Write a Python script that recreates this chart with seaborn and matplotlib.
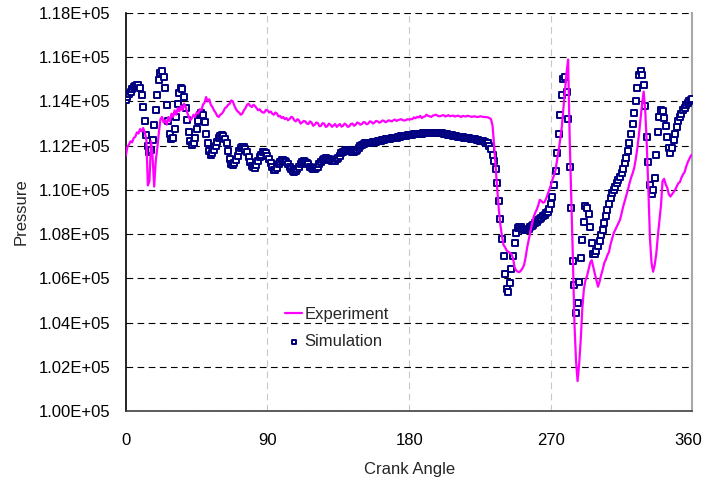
import numpy as np
import pandas as pd
import matplotlib
matplotlib.use("Agg")
import matplotlib.pyplot as plt
import matplotlib.transforms as mtransforms
import seaborn as sns
from matplotlib.ticker import FuncFormatter, MultipleLocator

# crank angle, one sample per degree
crank_angle = np.arange(0, 361, 1)

# simulated pressure (kPa)
sim_kpa = [
    # 0..59
    114.06, 114.2, 114.33, 114.45, 114.56, 114.65, 114.71, 114.74, 114.74, 114.6,
    114.3, 113.75, 113.1, 112.5, 112.0, 111.72, 111.8, 112.25, 112.95, 113.6,
    114.3, 114.95, 115.3, 115.38, 115.1, 114.6, 113.85, 113.1, 112.55, 112.28,
    112.35, 112.75, 113.3, 113.9, 114.4, 114.63, 114.55, 114.2, 113.7, 113.15,
    112.6, 112.2, 112.02, 112.1, 112.35, 112.75, 113.1, 113.4, 113.5, 113.38,
    113.05, 112.55, 112.1, 111.75, 111.6, 111.65, 111.8, 111.98, 112.18, 112.35,
    # 60
    112.45,
    # 61..230
    112.48, 112.45, 112.3, 112.1, 111.75, 111.4, 111.18, 111.13, 111.2, 111.35,
    111.55, 111.75, 111.9, 111.95, 111.93, 111.85, 111.7, 111.5, 111.28, 111.1,
    111.02, 111.0, 111.12, 111.3, 111.48, 111.6, 111.7, 111.7, 111.65, 111.55,
    111.38, 111.2, 111.02, 110.92, 110.92, 111.0, 111.15, 111.28, 111.35, 111.35,
    111.32, 111.25, 111.15, 111.05, 110.93, 110.85, 110.82, 110.85, 110.93, 111.05,
    111.18, 111.27, 111.3, 111.28, 111.22, 111.15, 111.05, 110.98, 110.95, 110.95,
    110.98, 111.05, 111.15, 111.25, 111.34, 111.4, 111.43, 111.42, 111.38, 111.35,
    111.32, 111.3, 111.32, 111.38, 111.46, 111.55, 111.65, 111.72, 111.78, 111.8,
    111.8, 111.78, 111.74, 111.72, 111.72, 111.75, 111.82, 111.9, 111.97, 112.02,
    112.07, 112.1, 112.11, 112.12, 112.12, 112.13, 112.15, 112.17, 112.18, 112.2,
    112.21, 112.22, 112.24, 112.26, 112.28, 112.29, 112.31, 112.32, 112.33, 112.34,
    112.36, 112.37, 112.39, 112.4, 112.42, 112.43, 112.45, 112.46, 112.47, 112.48,
    112.49, 112.5, 112.51, 112.52, 112.53, 112.54, 112.55, 112.55, 112.56, 112.56,
    112.57, 112.57, 112.58, 112.58, 112.58, 112.58, 112.58, 112.57, 112.57, 112.56,
    112.56, 112.55, 112.54, 112.52, 112.5, 112.49, 112.47, 112.46, 112.44, 112.43,
    112.41, 112.4, 112.39, 112.38, 112.36, 112.35, 112.34, 112.33, 112.31, 112.3,
    112.29, 112.28, 112.27, 112.25, 112.23, 112.21, 112.19, 112.17, 112.14, 112.1,
    # 231..360
    112.0, 111.85, 111.6, 111.3, 110.95, 110.3, 109.5, 108.7, 107.8, 107.0,
    106.2, 105.5, 105.4, 105.8, 106.4, 107.0, 107.6, 108.05, 108.28, 108.33,
    108.3, 108.25, 108.2, 108.18, 108.2, 108.25, 108.3, 108.36, 108.42, 108.48,
    108.55, 108.62, 108.68, 108.74, 108.8, 108.87, 108.94, 109.02, 109.15, 109.38,
    109.7, 110.2, 110.85, 111.65, 112.55, 113.4, 114.3, 115.0, 115.1, 114.45,
    113.2, 111.05, 109.2, 106.8, 105.7, 104.45, 104.9, 105.85, 106.9, 107.75,
    108.55, 109.25, 109.2, 108.9, 108.3, 107.6, 107.1, 107.08, 107.25, 107.45,
    107.7, 107.95, 108.2, 108.5, 108.8, 109.1, 109.35, 109.65, 109.85, 110.0,
    110.15, 110.3, 110.45, 110.6, 110.75, 110.95, 111.2, 111.45, 111.75, 112.1,
    112.55, 113.0, 113.5, 114.0, 114.6, 115.2, 115.4, 115.2, 114.75, 113.8,
    112.4, 111.25, 110.2, 109.8, 110.0, 110.55, 111.6, 112.6, 113.3, 113.6,
    113.55, 113.25, 112.9, 112.4, 111.9, 111.65, 111.9, 112.25, 112.55, 112.85,
    113.1, 113.3, 113.45, 113.6, 113.72, 113.83, 113.92, 114.0, 114.07, 114.1,
]

# measured pressure (kPa)
exp_kpa = [
    # 0..59
    111.55, 111.95, 112.05, 112.2, 112.15, 112.35, 112.4, 112.6, 112.55, 112.75,
    112.65, 112.8, 112.6, 112.3, 110.2, 110.4, 112.2, 111.5, 110.15, 111.3,
    111.9, 112.6, 113.2, 113.3, 113.05, 113.15, 112.95, 113.3, 113.1, 113.45,
    113.3, 113.6, 113.4, 113.7, 113.55, 113.8, 113.6, 113.9, 113.75, 113.5,
    113.3, 113.15, 113.25, 113.4, 113.3, 113.5, 113.45, 113.65, 113.6, 113.85,
    113.95, 114.2, 114.0, 114.1, 113.85, 113.75, 113.6, 113.5, 113.35, 113.3,
    # 60
    113.4,
    # 61..230
    113.45, 113.55, 113.7, 113.75, 113.85, 113.9, 114.05, 114.0, 113.8, 113.65,
    113.55, 113.5, 113.4, 113.45, 113.6, 113.7, 113.85, 113.9, 113.8, 113.75,
    113.85, 113.8, 113.7, 113.6, 113.65, 113.55, 113.5, 113.5, 113.62, 113.6,
    113.5, 113.55, 113.45, 113.4, 113.5, 113.45, 113.32, 113.35, 113.25, 113.3,
    113.2, 113.25, 113.15, 113.2, 113.3, 113.28, 113.15, 113.1, 113.2, 113.15,
    113.0, 113.05, 113.12, 113.1, 113.0, 112.98, 113.1, 113.05, 112.9, 112.95,
    113.05, 113.02, 112.88, 112.9, 113.02, 113.0, 112.85, 112.88, 113.0, 112.95,
    112.85, 112.92, 112.98, 112.85, 112.92, 112.98, 112.86, 112.9, 113.0, 112.95,
    112.85, 112.88, 112.98, 113.0, 112.9, 112.95, 113.05, 113.02, 112.95, 112.98,
    113.07, 113.05, 112.97, 113.0, 113.1, 113.08, 113.0, 113.05, 113.12, 113.1,
    113.04, 113.07, 113.14, 113.12, 113.06, 113.1, 113.15, 113.12, 113.1, 113.15,
    113.18, 113.12, 113.16, 113.18, 113.2, 113.15, 113.14, 113.16, 113.2, 113.18,
    113.2, 113.2, 113.28, 113.24, 113.3, 113.28, 113.35, 113.25, 113.3, 113.32,
    113.4, 113.35, 113.33, 113.3, 113.36, 113.38, 113.4, 113.36, 113.33, 113.34,
    113.37, 113.38, 113.32, 113.35, 113.38, 113.33, 113.35, 113.36, 113.32, 113.34,
    113.36, 113.33, 113.3, 113.35, 113.33, 113.32, 113.35, 113.34, 113.32, 113.3,
    113.33, 113.32, 113.3, 113.3, 113.33, 113.32, 113.3, 113.3, 113.29, 113.28,
    # 231..360
    113.25, 113.2, 112.9, 112.0, 111.0, 110.0, 109.1, 108.4, 107.9, 107.5,
    107.4, 107.25, 107.2, 107.15, 107.1, 106.9, 106.5, 106.35, 106.3, 106.28,
    106.35, 106.45, 106.6, 106.95, 107.4, 107.75, 108.1, 108.45, 108.75, 108.95,
    109.1, 109.3, 109.55, 109.5, 109.42, 109.45, 109.6, 109.8, 110.0, 110.2,
    110.45, 110.65, 110.9, 111.35, 111.8, 112.3, 112.85, 113.7, 114.5, 115.3,
    115.9, 112.3, 109.6, 107.0, 104.0, 102.3, 101.35, 102.1, 103.2, 104.6,
    105.5, 105.9, 106.1, 106.4, 106.7, 106.82, 106.5, 106.2, 105.9, 105.62,
    105.85, 106.15, 106.4, 106.7, 106.85, 107.05, 107.2, 107.55, 107.8, 108.05,
    108.2, 108.35, 108.5, 108.65, 108.95, 109.25, 109.5, 109.75, 110.0, 110.3,
    110.55, 110.75, 111.0, 111.4, 111.9, 112.5, 113.2, 113.9, 114.45, 113.6,
    112.0, 110.0, 107.8, 106.7, 106.3, 106.6, 107.1, 107.9, 108.6, 109.3,
    110.4, 110.5, 110.25, 110.1, 109.8, 109.7, 109.8, 109.9, 110.0, 110.15,
    110.3, 110.35, 110.55, 110.7, 110.8, 111.05, 111.25, 111.4, 111.55, 111.6,
]

x_ticks = [0, 90, 180, 270, 360]

df = pd.DataFrame({
    'angle': crank_angle,
    'simulation': np.array(sim_kpa) * 1000,
    'experiment': np.array(exp_kpa) * 1000,
})

sns.set_style("white")
plt.rcParams['font.family'] = ['Liberation Sans', 'DejaVu Sans']

fig = plt.figure(figsize=(7.03, 4.84), dpi=100)
ax = fig.add_axes([0.179, 0.151, 0.806, 0.822])

# experiment line, drawn on top of the simulation markers
sns.lineplot(data=df, x='angle', y='experiment', color='#ff00ff', linewidth=1.6,
             label='Experiment', ax=ax, zorder=4)
sns.scatterplot(data=df, x='angle', y='simulation', marker='s', s=18,
                facecolor='white', edgecolor='#000080', linewidth=1.4,
                label='Simulation', ax=ax, zorder=3)

ax.set_xlim(0, 360)
ax.set_ylim(100000, 118000)
ax.set_xticks(x_ticks)
ax.yaxis.set_major_locator(MultipleLocator(2000))
ax.yaxis.set_major_formatter(FuncFormatter(lambda v, p: f"{v:.2E}"))

# grid: black dashed horizontal, light grey dashed vertical
ax.yaxis.grid(True, color='black', linestyle=(0, (6, 4)), linewidth=0.8)
ax.xaxis.grid(True, color='#c8c8c8', linestyle=(0, (6, 4)), linewidth=0.8)
ax.set_axisbelow(True)
ygl = ax.get_ygridlines()
ygl[0].set_visible(False)
ygl[-1].set_visible(False)
xgl = ax.get_xgridlines()
xgl[0].set_visible(False)
xgl[-1].set_visible(False)

ax.spines['top'].set_visible(False)
ax.spines['left'].set_color('black')
ax.spines['left'].set_linewidth(1.2)
ax.spines['bottom'].set_color('#404040')
ax.spines['bottom'].set_linewidth(1.2)
ax.spines['right'].set_color('#a8a8a8')
ax.spines['right'].set_linewidth(1.5)

ax.tick_params(axis='both', direction='in', length=4, labelsize=12,
               colors='black')
ax.tick_params(axis='y', pad=11)
ax.tick_params(axis='x', pad=16)

ax.set_xlabel('Crank Angle', fontsize=12, labelpad=10)
ax.set_ylabel('Pressure', fontsize=12, labelpad=7)

leg = ax.legend(loc='upper left', bbox_to_anchor=(0.255, 0.3), frameon=False,
                fontsize=12, handlelength=1.0, handletextpad=0.15,
                labelspacing=0.75, markerscale=0.8)

# nudge the last x label left so it stays inside the canvas
lbl = ax.get_xticklabels()[-1]
lbl.set_transform(lbl.get_transform() + mtransforms.ScaledTranslation(-4 / 100, 0, fig.dpi_scale_trans))

plt.savefig('out.png', dpi=100)
